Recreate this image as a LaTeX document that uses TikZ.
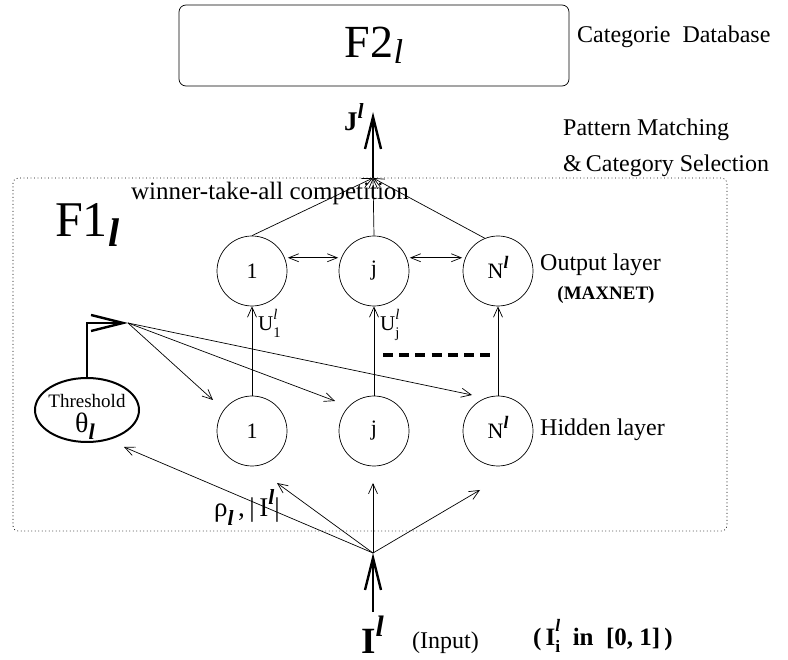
\documentclass[tikz,border=0pt]{standalone}
\usepackage{fontspec}
\setmainfont{Liberation Serif}
\usetikzlibrary{arrows.meta,shapes.geometric}
\newcommand\Ell{\textbf{\textit{l}}}
\newcommand\SupSub[2]{\rlap{\raisebox{0.55em}{\scalebox{0.7}{#1}}}\raisebox{-0.3em}{\scalebox{0.7}{#2}}}
\newcommand\Sup[1]{\raisebox{0.45em}{\scalebox{0.8}{#1}}}
\newcommand\Sub[1]{\raisebox{-0.2em}{\scalebox{0.8}{#1}}}
\begin{document}
\begin{tikzpicture}[x=1pt,y=-1pt,
  neuron/.style={circle,draw,line width=0.7pt,minimum size=70pt,inner sep=0pt,font=\fontsize{22}{26}\selectfont},
  lbl/.style={inner sep=0pt,font=\fontsize{24}{28}\selectfont},
  arr/.style={line width=0.7pt,-{Straight Barb[length=10pt,width=9pt]}},
  dblarr/.style={line width=0.7pt,{Straight Barb[length=10pt,width=8pt]}-{Straight Barb[length=10pt,width=8pt]}},
  bigarr/.style={line width=2.4pt,-{Straight Barb[length=32pt,width=16pt]}},
]
\useasboundingbox (0,0) rectangle (788,660);

% F2 box
\node[draw,rounded corners=7pt,line width=0.7pt,minimum width=390pt,minimum height=81pt,
      font=\fontsize{46}{50}\selectfont] (f2) at (374,45.5) {F2\raisebox{-0.12em}{\scalebox{0.75}{\textit{l}}}};
\node[lbl,anchor=west] (catdb) at (577,37) {Categorie\ \ Database};

% J arrow
\coordinate (apex) at (373,178);
\coordinate (jtip) at (373,112);
\draw[bigarr] (apex) -- (jtip);
\node[inner sep=0pt,anchor=base west,font=\fontsize{27}{32}\selectfont\bfseries] (jl) at (344,131) {J\Sup{\textit{l}}};

\node[lbl,anchor=west] (pm1) at (563,130) {Pattern Matching};
\node[lbl,anchor=west] (pm2) at (563,166) {\&\,Category Selection};

% dotted box
\draw[line width=0.7pt,dash pattern=on 0.9pt off 2.6pt,rounded corners=5pt] (13,178) rectangle (727,531);

\node[inner sep=0pt,font=\fontsize{25}{28}\selectfont] (wta) at (270,193) {winner-take-all competition};
\node[inner sep=0pt,anchor=base west,font=\fontsize{50}{55}\selectfont] (f1) at (55,237) {F1\raisebox{-0.2em}{\scalebox{0.8}{\Ell}}};

% neurons
\node[neuron] (o1) at (252,271) {1};
\node[neuron] (oj) at (374,271) {j};
\node[neuron] (oN) at (498,271) {N\smash{\Sup{\Ell}}};
\node[neuron] (h1) at (252,431) {1};
\node[neuron] (hj) at (374,431) {j};
\node[neuron] (hN) at (498,431) {N\smash{\Sup{\Ell}}};

\node[lbl,anchor=west] (outl) at (540,265) {Output layer};
\node[inner sep=0pt,font=\fontsize{19}{22}\selectfont\bfseries] (maxnet) at (606,295) {(MAXNET)};
\node[lbl,anchor=west] (hidl) at (540,430) {Hidden layer};

% to apex
\draw[arr] (o1.north) -- (apex);
\draw[arr] (oj.north) -- (apex);
\draw[arr] (oN.112) -- (apex);

% lateral
\draw[dblarr] ([xshift=3pt]o1.22) -- ([xshift=-3pt]oj.158);
\draw[dblarr] ([xshift=3pt]oj.22) -- ([xshift=-3pt]oN.158);

% hidden to output
\draw[arr] (h1.north) -- (o1.south);
\draw[arr] (hj.north) -- (oj.south);
\draw[arr] (hN.north) -- (oN.south);
\node[inner sep=0pt,font=\fontsize{21}{24}\selectfont,anchor=base west] (u1) at (258,331) {U\SupSub{\textit{l}}{1}};
\node[inner sep=0pt,font=\fontsize{21}{24}\selectfont,anchor=base west] (uj) at (380,331) {U\SupSub{\textit{l}}{j}};

% dashed
\coordinate (d1) at (383,355);
\coordinate (d2) at (493,355);
\draw[line width=4pt,dash pattern=on 10pt off 6.2pt] (d1) -- (d2);

% threshold
\node[ellipse,draw,line width=2pt,minimum width=104pt,minimum height=64pt,inner sep=0pt] (th) at (87,410) {};
\node[inner sep=0pt,anchor=base,font=\fontsize{19}{22}\selectfont] (thtxt) at (87,408) {Threshold};
\node[inner sep=0pt,anchor=base west,font=\fontsize{28}{30}\selectfont] (theta) at (75,433) {θ\raisebox{-0.25em}{\scalebox{0.8}{\Ell}}};
\coordinate (thtip) at (128,323);
\draw[bigarr,line join=miter] (th.north) |- (thtip);
\coordinate (c1) at (213,400);
\coordinate (c2) at (335,401);
\coordinate (c3) at (472,395);
\draw[arr] (thtip) -- (c1);
\draw[arr] (thtip) -- (c2);
\draw[arr] (thtip) -- (c3);

% input
\coordinate (inp) at (373,553);
\coordinate (inbot) at (373,612);
\draw[bigarr] (inbot) -- (inp);
\node[inner sep=0pt,anchor=base west,font=\fontsize{37}{40}\selectfont\bfseries] (il) at (361,653) {I\Sup{\textit{l}}};
\coordinate (i1) at (124,447);
\coordinate (i2) at (277,483);
\coordinate (i3) at (373,483);
\coordinate (i4) at (480,490);
\draw[arr] (inp) -- (i1);
\draw[arr] (inp) -- (i2);
\draw[arr] (inp) -- (i3);
\draw[arr] (inp) -- (i4);
\node[inner sep=0pt,anchor=base west,font=\fontsize{27}{30}\selectfont] (rho) at (214,517) {ρ\raisebox{-0.3em}{\scalebox{0.8}{\Ell}}\,,\,|\,I\Sup{\Ell}|};

\node[lbl,anchor=base west] (inlbl) at (412,648) {(Input)};
\node[inner sep=0pt,anchor=base west,font=\fontsize{25}{28}\selectfont\bfseries] (range) at (533,645) {(\,I\SupSub{\textit{l}}{i}\ \ in\ \ [0, 1]\,)};
\end{tikzpicture}
\end{document}
